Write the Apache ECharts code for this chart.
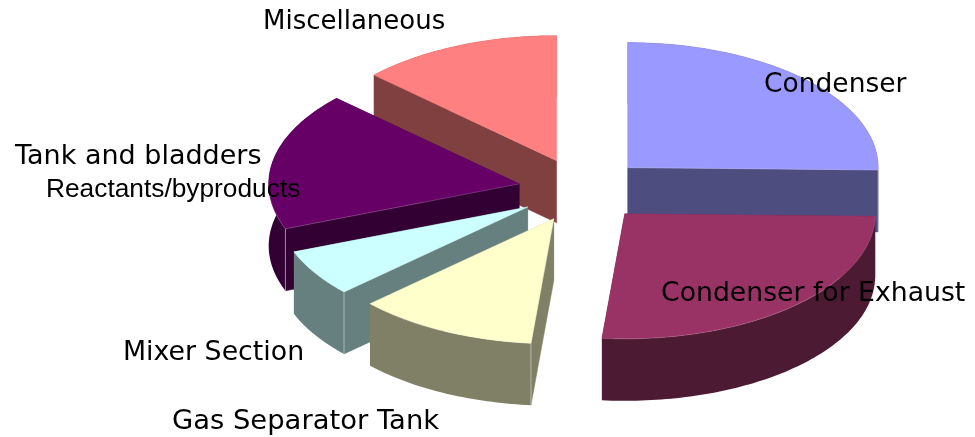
<!DOCTYPE html>
<html>
<head>
<meta charset="utf-8">
<style>html,body{margin:0;padding:0;background:#fff}#chart{width:975px;height:437px}</style>
<script src="https://cdn.jsdelivr.net/npm/echarts@6/dist/echarts.min.js"></script>
</head>
<body>
<div id="chart"></div>
<script>
// --- data ---
const categories = ['Condenser', 'Condenser for Exhaust', 'Gas Separator Tank', 'Mixer Section', 'Tank and bladders', 'Miscellaneous'];
const shares = [25.3, 26.15, 11.65, 6.05, 17.85, 13.0];
const extraLabels = ['Reactants/byproducts'];

// --- styling / layout ---
const topColors = ['#9999FF', '#993366', '#FFFFCC', '#CCFFFF', '#660066', '#FF8080'];
const sideColors = ['#4D4D80', '#4D1A33', '#808066', '#668080', '#330033', '#804040'];
const paintRank = [2, 5, 4, 3, 1, 0];
const labelAnchors = [[764, 85], [661, 294], [172, 422], [123, 353], [15, 157], [263, 22]];
const labelSizes = [26.5, 26.7, 27.4, 26.8, 27, 26];
const extraAnchors = [[46, 190]];
const extraSizes = [26.3];
const CX = 582, CY = 190, RX = 250.5, RY = 125, DEPTH = 62, EXPLODE = 64;
const EDGE = 'rgba(225,225,225,0.55)';

const total = shares.reduce((a, b) => a + b, 0);
const starts = [];
shares.reduce((acc, v, i) => { starts[i] = acc; return acc + v; }, 0);
const toRad = s => s / total * Math.PI * 2;

function rim(a0, a1, ox, oy, dy) {
  const pts = [], n = Math.max(8, Math.ceil((a1 - a0) / 0.02));
  for (let k = 0; k <= n; k++) {
    const a = a0 + (a1 - a0) * k / n;
    pts.push([ox + RX * Math.sin(a), oy - RY * Math.cos(a) + dy]);
  }
  return pts;
}

function renderSlice(params, api) {
  const i = params.dataIndex;
  const a0 = toRad(starts[i]), a1 = toRad(starts[i] + api.value(0));
  const mid = (a0 + a1) / 2;
  const ox = CX + EXPLODE * Math.sin(mid), oy = CY - EXPLODE * 0.5 * Math.cos(mid);
  const side = sideColors[i], base = paintRank[i] * 10;
  const apex = [ox, oy], apexB = [ox, oy + DEPTH];
  const arcT = rim(a0, a1, ox, oy, 0), arcB = rim(a0, a1, ox, oy, DEPTH);
  const pT0 = arcT[0], pT1 = arcT[arcT.length - 1], pB0 = arcB[0], pB1 = arcB[arcB.length - 1];
  const poly = (points, fill, z, hidden) => ({
    type: 'polygon', z2: base + z, shape: { points },
    style: hidden ? { fill } : { fill, stroke: fill, lineWidth: 0.5 }, silent: true
  });
  const startVisible = Math.sin(a0) < -1e-6, endVisible = Math.sin(a1) > 1e-6;
  const startFace = poly([apex, pT0, pB0, apexB], side, startVisible ? 3 : 0, !startVisible);
  const endFace = poly([apex, pT1, pB1, apexB], side, endVisible ? 3 : 0, !endVisible);
  const wall = poly(arcT.concat(arcB.slice().reverse()), side, 1, true);
  const top = poly([apex].concat(arcT), topColors[i], 5);
  const children = [startFace, endFace, wall, top];
  // thin light edges where a cut face meets the outer wall in front
  [[startVisible, a0, pT0, pB0], [endVisible, a1, pT1, pB1]].forEach(([vis, a, p, q]) => {
    if (vis && Math.cos(a) < 0.05) {
      children.push({
        type: 'line', z2: base + 6, silent: true,
        shape: { x1: p[0], y1: p[1], x2: q[0], y2: q[1] },
        style: { stroke: EDGE, lineWidth: 1 }
      });
      children.push({
        type: 'line', z2: base + 6, silent: true,
        shape: { x1: apex[0], y1: apex[1], x2: p[0], y2: p[1] },
        style: { stroke: 'rgba(225,225,225,0.3)', lineWidth: 0.7 }
      });
    }
  });
  children.push({
    type: 'polyline', z2: base + 6, silent: true,
    shape: { points: arcT.filter((p, k) => p[1] > oy + 2) },
    style: { stroke: 'rgba(225,225,225,0.22)', lineWidth: 0.7, fill: 'none' }
  });
  return { type: 'group', children };
}

const textStyle = (x, y, text, family, size) => ({
  type: 'text', silent: true, z2: 100,
  style: { x, y, text, fill: '#000', font: size + 'px ' + family, textAlign: 'left', textVerticalAlign: 'middle' }
});

function renderLabel(params) {
  const i = params.dataIndex;
  return textStyle(labelAnchors[i][0], labelAnchors[i][1], categories[i], '"DejaVu Sans"', labelSizes[i]);
}
function renderExtra(params) {
  const i = params.dataIndex;
  return textStyle(extraAnchors[i][0], extraAnchors[i][1], extraLabels[i], '"Liberation Sans"', extraSizes[i]);
}

const chart = echarts.init(document.getElementById('chart'), null, { renderer: 'canvas' });
chart.setOption({
  animation: false,
  backgroundColor: '#fff',
  tooltip: { show: false },
  series: [
    { type: 'custom', coordinateSystem: 'none', renderItem: renderSlice, z: 2, silent: true,
      data: categories.map((name, i) => ({ name, value: [shares[i]] })) },
    { type: 'custom', coordinateSystem: 'none', renderItem: renderLabel, z: 5, silent: true,
      data: categories.map((name, i) => ({ name, value: [shares[i]] })) },
    { type: 'custom', coordinateSystem: 'none', renderItem: renderExtra, z: 5, silent: true,
      data: extraLabels.map(name => ({ name, value: [0] })) }
  ]
});
</script>
</body>
</html>
